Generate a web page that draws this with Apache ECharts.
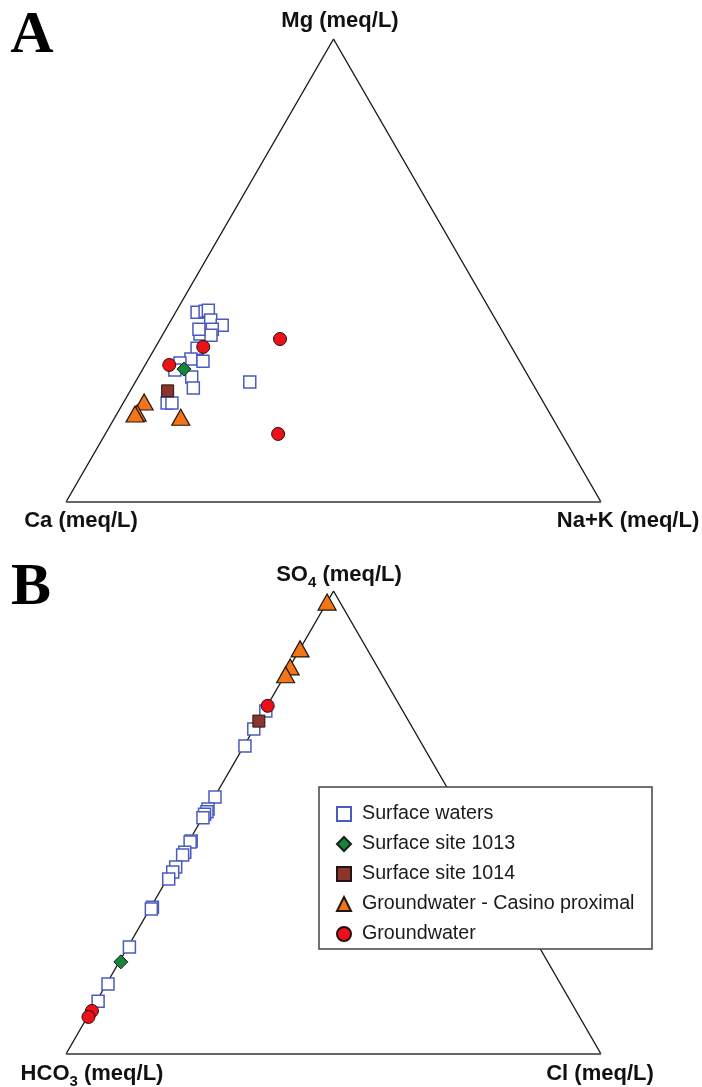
<!DOCTYPE html>
<html>
<head>
<meta charset="utf-8">
<script src="https://cdn.jsdelivr.net/npm/echarts@6/dist/echarts.min.js"></script>
<style>
  html, body { margin: 0; padding: 0; background: #ffffff; }
  #chart { width: 702px; height: 1087px; }
</style>
</head>
<body>
<div id="chart"></div>
<script>
// ---- Panel A: cations, each sample as [Ca, Mg, Na+K] in % of meq/L ----
const cationLabels = ['Ca (meq/L)', 'Mg (meq/L)', 'Na+K (meq/L)'];
const surfaceWatersA = [
  [55.0, 41.0, 4.0], [53.4, 41.2, 5.4], [52.7, 41.4, 5.9], [53.3, 39.3, 7.4],
  [51.7, 38.2, 10.1], [56.2, 37.1, 6.7], [54.0, 37.3, 8.7], [56.8, 36.3, 6.9],
  [54.9, 36.0, 9.1], [56.5, 37.3, 6.2], [58.9, 33.2, 7.9], [61.2, 30.9, 7.9],
  [59.2, 30.4, 10.4], [63.7, 30.0, 6.3], [65.4, 28.5, 6.1], [63.0, 27.0, 10.0],
  [63.9, 24.6, 11.5], [52.7, 25.9, 21.4], [70.4, 21.4, 8.2], [69.5, 21.4, 9.1]
];
const site1013A = [[63.6, 28.7, 7.7]];
const site1014A = [[69.0, 24.0, 7.0]];
const casinoProximalA = [[74.6, 21.6, 3.8], [77.1, 19.2, 3.7], [77.6, 19.0, 3.4], [69.4, 18.3, 12.3]];
const groundwaterA = [[57.6, 33.5, 8.9], [65.9, 29.6, 4.5], [42.4, 35.2, 22.4], [53.0, 14.7, 32.3]];

// ---- Panel B: anions, each sample as [HCO3, SO4, Cl] in % of meq/L ----
const surfaceWatersB = [
  [25.6, 74.1, 0.3], [29.8, 70.2, 0.0], [33.3, 66.5, 0.2], [44.4, 55.5, 0.1],
  [47.0, 52.9, 0.1], [47.5, 52.3, 0.2], [48.2, 51.8, 0.0], [48.9, 51.0, 0.1],
  [53.6, 46.0, 0.4], [53.9, 45.8, 0.3], [56.0, 43.6, 0.4], [56.7, 43.0, 0.3],
  [59.3, 40.4, 0.3], [60.4, 39.3, 0.3], [61.9, 37.8, 0.3], [68.0, 31.7, 0.3],
  [68.4, 31.3, 0.3], [76.6, 23.1, 0.3], [84.6, 15.1, 0.3], [88.3, 11.4, 0.3]
];
const site1013B = [[79.8, 19.9, 0.3]];
const site1014B = [[28.0, 71.9, 0.1]];
const casinoProximalB = [[2.4, 97.6, 0.0], [12.5, 87.5, 0.0], [16.3, 83.6, 0.1], [18.0, 81.9, 0.1]];
const groundwaterB = [[24.7, 75.2, 0.1], [90.5, 9.3, 0.2], [91.8, 8.0, 0.2]];

const seriesNames = ['Surface waters', 'Surface site 1013', 'Surface site 1014',
  'Groundwater - Casino proximal', 'Groundwater'];

// Ternary [left, apex, right] -> cartesian point in a unit-side triangle
const H = Math.sqrt(3) / 2;
function toXY(p) {
  const s = p[0] + p[1] + p[2];
  const apex = p[1] / s, right = p[2] / s;
  return [right + apex / 2, apex * H];
}
const frameSides = [[100, 0, 0], [0, 100, 0], [0, 0, 100]].map(toXY);
const frameBase = [[100, 0, 0], [0, 0, 100]].map(toXY);

const styles = [
  { symbol: 'rect', symbolSize: 12, itemStyle: { color: '#ffffff', borderColor: '#4a5bbf', borderWidth: 1.5, opacity: 1 } },
  { symbol: 'diamond', symbolSize: 14, itemStyle: { color: '#16853a', borderColor: '#14201a', borderWidth: 1, opacity: 1 } },
  { symbol: 'rect', symbolSize: 12, itemStyle: { color: '#8a362e', borderColor: '#241412', borderWidth: 1, opacity: 1 } },
  { symbol: 'triangle', symbolSize: [18, 16], itemStyle: { color: '#f2751a', borderColor: '#24160c', borderWidth: 1.2, opacity: 1 } },
  { symbol: 'circle', symbolSize: 13, itemStyle: { color: '#ec1118', borderColor: '#2a0c0c', borderWidth: 1, opacity: 1 } }
];

const groupsA = [surfaceWatersA, site1013A, site1014A, casinoProximalA, groundwaterA];
const groupsB = [surfaceWatersB, site1013B, site1014B, casinoProximalB, groundwaterB];

function frameSeries(idx) {
  return [
    { type: 'line', xAxisIndex: idx, yAxisIndex: idx, data: frameSides, symbol: 'none', silent: true,
      lineStyle: { color: '#1a1a1a', width: 1.4 }, z: 1 },
    { type: 'line', xAxisIndex: idx, yAxisIndex: idx, data: frameBase, symbol: 'none', silent: true,
      lineStyle: { color: '#666666', width: 2 }, z: 1 }
  ];
}
function pointSeries(groups, idx) {
  return groups.map((g, i) => Object.assign({
    type: 'scatter', name: seriesNames[i], xAxisIndex: idx, yAxisIndex: idx,
    data: g.map(toXY), z: 3 + i
  }, styles[i]));
}

const labelFont = 'bold 22px "Liberation Sans", Arial, sans-serif';
function label(x, y, text, align) {
  return { type: 'text', x: x, y: y, z: 30,
    style: { text: text, font: labelFont, fill: '#111111', align: align || 'center', verticalAlign: 'middle' } };
}
function richLabel(x, y, main, sub, rest, align) {
  return { type: 'text', x: x, y: y, z: 30,
    style: {
      text: '{b|' + main + '}{s|' + sub + '}{b|' + rest + '}',
      align: align || 'center', verticalAlign: 'middle',
      rich: {
        b: { font: labelFont, fill: '#111111', lineHeight: 30 },
        s: { font: 'bold 15px "Liberation Sans", Arial, sans-serif', fill: '#111111', lineHeight: 15, verticalAlign: 'bottom' }
      }
    } };
}

const axisOff = { type: 'value', show: false, min: 0, max: 1 };
const yOff = { type: 'value', show: false, min: 0, max: H };

const chart = echarts.init(document.getElementById('chart'), null, { renderer: 'canvas' });
chart.setOption({
  backgroundColor: '#ffffff',
  animation: false,
  grid: [
    { left: 66, top: 39, width: 535, height: 463 },
    { left: 66, top: 591, width: 535, height: 463 }
  ],
  xAxis: [Object.assign({ gridIndex: 0 }, axisOff), Object.assign({ gridIndex: 1 }, axisOff)],
  yAxis: [Object.assign({ gridIndex: 0 }, yOff), Object.assign({ gridIndex: 1 }, yOff)],
  legend: {
    data: seriesNames,
    orient: 'vertical',
    left: 331, top: 799,
    itemWidth: 14, itemHeight: 14, itemGap: 10,
    z: 40,
    textStyle: { fontFamily: '"Liberation Sans", Arial, sans-serif', fontSize: 19.7, color: '#1a1a1a',
      lineHeight: 19, padding: [0, 0, 0, 6] }
  },
  graphic: [
    { type: 'rect', z: 20, shape: { x: 319, y: 787, width: 333, height: 162 },
      style: { fill: '#ffffff', stroke: '#444444', lineWidth: 1.5 } },
    { type: 'text', x: 32, y: 36, z: 30,
      style: { text: 'A', font: 'bold 60px "Liberation Serif", "Times New Roman", serif', fill: '#000000', align: 'center', verticalAlign: 'middle' } },
    { type: 'text', x: 31, y: 588, z: 30,
      style: { text: 'B', font: 'bold 60px "Liberation Serif", "Times New Roman", serif', fill: '#000000', align: 'center', verticalAlign: 'middle' } },
    label(340, 21, cationLabels[1]),
    label(81, 521, cationLabels[0]),
    label(628, 521, cationLabels[2]),
    richLabel(339, 575, 'SO', '4', ' (meq/L)'),
    richLabel(92, 1074, 'HCO', '3', ' (meq/L)'),
    label(600, 1074, 'Cl (meq/L)')
  ],
  series: [].concat(frameSeries(0), frameSeries(1), pointSeries(groupsA, 0), pointSeries(groupsB, 1))
});
</script>
</body>
</html>
